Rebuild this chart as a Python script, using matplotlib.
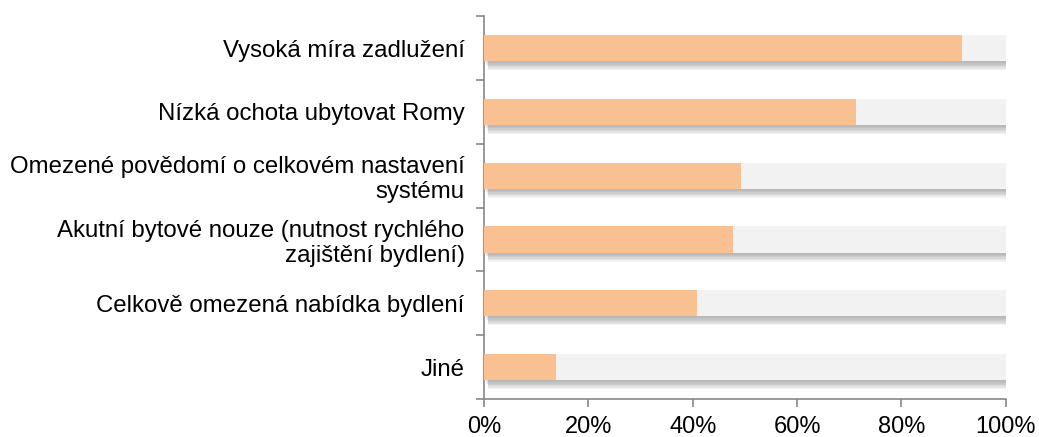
import numpy as np
import matplotlib.pyplot as plt
import matplotlib.patheffects as pe

plt.rcParams['font.family'] = ['Liberation Sans', 'DejaVu Sans']

categories = [
    "Vysoká míra zadlužení",
    "Nízká ochota ubytovat Romy",
    "Omezené povědomí o celkovém nastavení\nsystému",
    "Akutní bytové nouze (nutnost rychlého\nzajištění bydlení)",
    "Celkově omezená nabídka bydlení",
    "Jiné",
]
values = [0.916, 0.713, 0.492, 0.477, 0.408, 0.138]
rest = [1 - v for v in values]
xticks = [0, 0.2, 0.4, 0.6, 0.8, 1.0]
xlabels = ["0%", "20%", "40%", "60%", "80%", "100%"]

fig = plt.figure(figsize=(10.39, 4.37), dpi=100)
ax = fig.add_axes([0.466, 0.087, 0.502, 0.876])

y = np.arange(len(categories))[::-1]
total = [v + r for v, r in zip(values, rest)]

# soft drop shadow: several faint offset copies
offs = [(1, -1.5), (1.5, -2.5), (2, -3.5), (2.5, -4.5), (3, -5.5), (3, -6.5)]
shadow = [pe.SimplePatchShadow(offset=o, shadow_rgbFace='#505050', alpha=0.08)
          for o in offs] + [pe.Normal()]

ax.barh(y, total, height=0.41, color='#F2F2F2', path_effects=shadow, zorder=2)
ax.barh(y, values, height=0.41, color='#F9C191', zorder=3)

ax.set_xlim(0, 1)
ax.set_ylim(-0.5, len(categories) - 0.5)
ax.set_xticks(xticks)
ax.set_xticklabels(xlabels, fontsize=17)
ax.set_yticks(y)
ax.set_yticklabels(categories, fontsize=17.3, ha='right', linespacing=1.15)
ax.set_yticks(np.arange(-0.5, len(categories)), minor=True)
ax.tick_params(axis='y', which='major', length=0, pad=14)
ax.tick_params(axis='y', which='minor', length=6, color='#888888', width=1.2)
ax.tick_params(axis='x', length=6, color='#888888', width=1.2, pad=6)

for s in ['top', 'right']:
    ax.spines[s].set_visible(False)
for s in ['left', 'bottom']:
    ax.spines[s].set_color('#888888')
    ax.spines[s].set_linewidth(1.2)

fig.savefig('out.png', dpi=100)
